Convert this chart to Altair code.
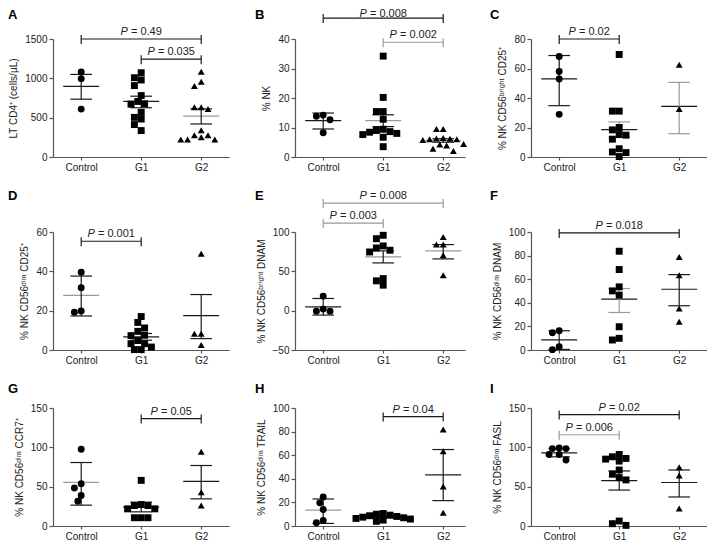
import json
import altair as alt
import pandas as pd

GROUPS = ["Control", "G1", "G2"]
SHAPES = ["circle", "square", "triangle-up"]

# A  LT CD4+
A_CONTROL = [1080, 996, 609]
A_G1 = [1071, 1008, 979, 908, 781, 706, 677, 672, 567, 504, 483, 412, 336]
A_G2 = [1084, 958, 903, 634, 609, 634, 340, 277, 252, 223, 223, 223, 277]
A_MEAN = [899, 706, 520]
A_LO = [735, 626, 420]
A_HI = [1050, 773, 612]
A_PAIRS = [("Control", "G2"), ("G1", "G2")]
A_PLEV = [1500, 1244]
A_PVAL = ["0.49", "0.035"]

# B  % NK
B_CONTROL = [13.8, 12.6, 14.2, 8.2]
B_G1 = [34.2, 20.2, 15.4, 15.4, 12.8, 9.4, 9.0, 8.6, 8.4, 8.0, 7.6, 6.7, 3.5]
B_G2 = [9.5, 9.5, 6.4, 6.2, 6.0, 5.8, 6.0, 6.3, 4.4, 3.9, 4.2, 2.8, 2.0]
B_MEAN = [12.3, 12.3, 5.6]
B_LO = [9.5, 10.3, 5.0]
B_HI = [14.9, 14.3, 6.2]
B_PAIRS = [("Control", "G2"), ("G1", "G2")]
B_PLEV = [47.1, 38.9]
B_PVAL = ["0.008", "0.002"]

# C  CD56bright CD25+
C_CONTROL = [68.1, 58.0, 52.9, 28.9]
C_G1 = [69.5, 31.1, 31.1, 20.0, 18.4, 15.2, 14.8, 12.1, 5.6, 3.4, 3.0, 0.3]
C_G2 = [62.5, 32.5]
C_MEAN = [53.0, 18.6, 34.3]
C_LO = [34.8, 13.5, 15.8]
C_HI = [68.8, 23.8, 50.6]
C_PAIRS = [("Control", "G1")]
C_PLEV = [80]
C_PVAL = ["0.02"]

# D  CD56dim CD25+
D_CONTROL = [39.5, 31.7, 19.2, 19.8]
D_G1 = [17, 14, 11.2, 9.5, 7.5, 7.3, 4.8, 3.2, 3.2, 1.5, 0.2, 0.2]
D_G2 = [49, 8.2, 8.2, 2.5]
D_MEAN = [27.8, 6.7, 17.5]
D_LO = [17.3, 5.0, 5.8]
D_HI = [37.6, 8.4, 28.2]
D_PAIRS = [("Control", "G1")]
D_PLEV = [55.3]
D_PVAL = ["0.001"]

# E  CD56bright DNAM
E_CONTROL = [18.5, 2.0, -0.6, -0.6]
E_G1 = [95.8, 91.5, 82.3, 76.8, 74.6, 79.7, 40.8, 37.9, 32.4]
E_G2 = [93.7, 84, 84, 70.4, 45.1]
E_MEAN = [4.9, 68.3, 75.9]
E_LO = [-5.6, 60.7, 65.8]
E_HI = [15.5, 76.0, 84.0]
E_PAIRS = [("Control", "G2"), ("Control", "G1")]
E_PLEV = [136.8, 111.4]
E_PVAL = ["0.008", "0.003"]

# F  CD56dim DNAM
F_CONTROL = [16.3, 14.6, 2.8, 0.3]
F_G1 = [83.7, 68.2, 53.5, 50.1, 46.5, 19.7, 8.5, 9.9]
F_G2 = [78.9, 63.4, 35.2, 23.9]
F_MEAN = [8.5, 43.1, 51.5]
F_LO = [0.5, 31.8, 37.5]
F_HI = [16.3, 52.1, 63.9]
F_PAIRS = [("Control", "G2")]
F_PLEV = [99.2]
F_PVAL = ["0.018"]

# G  CD56dim CCR7+
G_CONTROL = [97.5, 53.8, 48.3, 38.7, 31.5]
G_G1 = [58, 26, 26, 27.3, 21.8, 21.8, 10.5, 10.5, 10.5]
G_G2 = [94.5, 42.9, 26]
G_MEAN = [55.5, 24.0, 56.7]
G_LO = [26.5, 18.0, 34.5]
G_HI = [80.7, 30.3, 76.9]
G_PAIRS = [("G1", "G2")]
G_PLEV = [136.6]
G_PVAL = ["0.05"]

# H  CD56dim TRAIL
H_CONTROL = [24.6, 19.6, 14.0, 4.7, 2.8]
H_G1 = [10.6, 10.0, 9.2, 8.7, 8.1, 7.5, 7.0, 6.4, 5.9, 5.0, 4.0]
H_G2 = [81.8, 63.4, 33.5, 11.2]
H_MEAN = [13.4, 7.8, 43.3]
H_LO = [2.2, 7.0, 21.5]
H_HI = [22.9, 8.6, 64.8]
H_PAIRS = [("G1", "G2")]
H_PLEV = [92.7]
H_PVAL = ["0.04"]

# I  CD56dim FASL
I_CONTROL = [99.3, 98.4, 98.4, 90.9, 90.9, 83.8]
I_G1 = [88, 85, 82.5, 85.9, 90.9, 71.2, 65.8, 61.5, 58.6, 6.3, 0.8, 2.9]
I_G2 = [74.6, 64.1, 22.2]
I_MEAN = [93.0, 57.8, 55.3]
I_LO = [88.0, 45.7, 36.9]
I_HI = [98.5, 70.0, 71.2]
I_PAIRS = [("Control", "G2"), ("Control", "G1")]
I_PLEV = [141.6, 116]
I_PVAL = ["0.02", "0.006"]

PANELS = [
    dict(letter="A", title="LT CD4⁺ (cells/µL)", dom=[0, 1500], ticks=[0, 500, 1000, 1500],
         pts=[A_CONTROL, A_G1, A_G2], mean=A_MEAN, lo=A_LO, hi=A_HI,
         pairs=A_PAIRS, plev=A_PLEV, pval=A_PVAL),
    dict(letter="B", title="% NK", dom=[0, 40], ticks=[0, 10, 20, 30, 40],
         pts=[B_CONTROL, B_G1, B_G2], mean=B_MEAN, lo=B_LO, hi=B_HI,
         pairs=B_PAIRS, plev=B_PLEV, pval=B_PVAL),
    dict(letter="C", title="% NK CD56ᵇʳⁱᵍʰᵗ CD25⁺", dom=[0, 80], ticks=[0, 20, 40, 60, 80],
         pts=[C_CONTROL, C_G1, C_G2], mean=C_MEAN, lo=C_LO, hi=C_HI,
         pairs=C_PAIRS, plev=C_PLEV, pval=C_PVAL),
    dict(letter="D", title="% NK CD56ᵈⁱᵐ CD25⁺", dom=[0, 60], ticks=[0, 20, 40, 60],
         pts=[D_CONTROL, D_G1, D_G2], mean=D_MEAN, lo=D_LO, hi=D_HI,
         pairs=D_PAIRS, plev=D_PLEV, pval=D_PVAL),
    dict(letter="E", title="% NK CD56ᵇʳⁱᵍʰᵗ DNAM", dom=[-50, 100], ticks=[-50, 0, 50, 100],
         pts=[E_CONTROL, E_G1, E_G2], mean=E_MEAN, lo=E_LO, hi=E_HI,
         pairs=E_PAIRS, plev=E_PLEV, pval=E_PVAL),
    dict(letter="F", title="% NK CD56ᵈⁱᵐ DNAM", dom=[0, 100], ticks=[0, 20, 40, 60, 80, 100],
         pts=[F_CONTROL, F_G1, F_G2], mean=F_MEAN, lo=F_LO, hi=F_HI,
         pairs=F_PAIRS, plev=F_PLEV, pval=F_PVAL),
    dict(letter="G", title="% NK CD56ᵈⁱᵐ CCR7⁺", dom=[0, 150], ticks=[0, 50, 100, 150],
         pts=[G_CONTROL, G_G1, G_G2], mean=G_MEAN, lo=G_LO, hi=G_HI,
         pairs=G_PAIRS, plev=G_PLEV, pval=G_PVAL),
    dict(letter="H", title="% NK CD56ᵈⁱᵐ TRAIL", dom=[0, 100], ticks=[0, 20, 40, 60, 80, 100],
         pts=[H_CONTROL, H_G1, H_G2], mean=H_MEAN, lo=H_LO, hi=H_HI,
         pairs=H_PAIRS, plev=H_PLEV, pval=H_PVAL),
    dict(letter="I", title="% NK CD56ᵈⁱᵐ FASL", dom=[0, 150], ticks=[0, 50, 100, 150],
         pts=[I_CONTROL, I_G1, I_G2], mean=I_MEAN, lo=I_LO, hi=I_HI,
         pairs=I_PAIRS, plev=I_PLEV, pval=I_PVAL),
]

# styling: k = black, g = grey (mean line / error bar / brackets), tdy = label lift
K, G = "#1a1a1a", "#9a9a9a"
STYLE = {
    "A": dict(mc=[K, K, G], bc=[K, K, K], br=[K, K], tdy=[-4, -4]),
    "B": dict(mc=[K, G, G], bc=[K, K, K], br=[K, G], tdy=[-1, -4]),
    "C": dict(mc=[K, K, K], bc=[K, G, G], br=[K], tdy=[-4]),
    "D": dict(mc=[G, K, K], bc=[K, K, K], br=[K], tdy=[-4]),
    "E": dict(mc=[K, G, G], bc=[K, K, K], br=[G, G], tdy=[-4, -4]),
    "F": dict(mc=[K, K, K], bc=[K, G, K], br=[K], tdy=[-4]),
    "G": dict(mc=[G, K, K], bc=[K, K, K], br=[K], tdy=[-4]),
    "H": dict(mc=[G, K, K], bc=[K, K, K], br=[K], tdy=[-4]),
    "I": dict(mc=[K, K, K], bc=[K, K, K], br=[K, G], tdy=[-4, -4]),
}

FONT = "Liberation Sans"
COL_W = [176, 170, 176]
PLOT_H = 118
PX_X = 60.0          # pixels per category step
X0 = -0.47
MEAN_HW, CAP_HW = 0.3, 0.18
LETTER_DX = [-45, -40, -41]
LETTER_DY = [-24, -36, -19]
CHAR_W = {"=": 0.584, " ": 0.278, ".": 0.278}


def swarm(vals, ppu, d=6.8):
    # simple beeswarm: place each point at the closest free horizontal slot
    cands = [0.0]
    for k in range(1, 16):
        cands += [-k * d / 2, k * d / 2]
    placed, out = [], [0.0] * len(vals)
    for i in sorted(range(len(vals)), key=lambda j: -vals[j]):
        y = vals[i] * ppu
        for c in cands:
            if all((c - px) ** 2 + (y - py) ** 2 >= (0.97 * d) ** 2 for px, py in placed):
                break
        placed.append((c, y))
        out[i] = c
    return out


def text_w(s, size=11):
    return sum(CHAR_W.get(ch, 0.556) for ch in s) * size


def panel(p, col, row):
    st = STYLE[p["letter"]]
    w = COL_W[col]
    xs = alt.Scale(domain=[X0, X0 + w / PX_X], nice=False, zero=False)
    ys = alt.Scale(domain=p["dom"], nice=False, zero=False)
    xax = alt.Axis(values=[0, 1, 2], labelExpr=json.dumps(GROUPS) + "[datum.value]",
                   title=None, grid=False)
    yax = alt.Axis(values=p["ticks"], title=p["title"], grid=False, format="d")
    ppu = PLOT_H / (p["dom"][1] - p["dom"][0])

    def X(f):
        return alt.X(f, type="quantitative", scale=xs, axis=xax)

    def Y(f):
        return alt.Y(f, type="quantitative", scale=ys, axis=yax)

    rows = []
    for gi, vals in enumerate(p["pts"]):
        for v, o in zip(vals, swarm(vals, ppu)):
            rows.append({"x": gi + o / PX_X, "v": v, "grp": GROUPS[gi]})
    pts = alt.Chart(pd.DataFrame(rows)).mark_point(
        filled=True, opacity=1, size=48, color="#000"
    ).encode(
        X("x"), Y("v"),
        shape=alt.Shape("grp:N", scale=alt.Scale(domain=GROUPS, range=SHAPES), legend=None),
    )

    stats = pd.DataFrame({
        "x": [0, 1, 2], "mean": p["mean"], "lo": p["lo"], "hi": p["hi"],
        "mc": st["mc"], "bc": st["bc"],
    })
    stats["ml"] = stats["x"] - MEAN_HW
    stats["mr"] = stats["x"] + MEAN_HW
    stats["cl"] = stats["x"] - CAP_HW
    stats["cr"] = stats["x"] + CAP_HW
    base = alt.Chart(stats)
    mean = base.mark_rule(strokeWidth=1.2).encode(
        X("ml"), x2="mr", y=Y("mean"), color=alt.Color("mc:N", scale=None))
    vert = base.mark_rule(strokeWidth=1.2).encode(
        X("x"), Y("lo"), y2="hi", color=alt.Color("bc:N", scale=None))
    cap_hi = base.mark_rule(strokeWidth=1.2).encode(
        X("cl"), x2="cr", y=Y("hi"), color=alt.Color("bc:N", scale=None))
    cap_lo = base.mark_rule(strokeWidth=1.2).encode(
        X("cl"), x2="cr", y=Y("lo"), color=alt.Color("bc:N", scale=None))

    layers = [mean, vert, cap_hi, cap_lo]

    brk, ends = [], []
    for (ga, gb), lev, val, c, tdy in zip(p["pairs"], p["plev"], p["pval"], st["br"], st["tdy"]):
        a, b = GROUPS.index(ga), GROUPS.index(gb)
        brk.append({"a": a, "b": b, "lev": lev, "c": c})
        ends += [{"e": a, "lev": lev, "c": c}, {"e": b, "lev": lev, "c": c}]
        rest = "= " + val
        wp, ws = 7.3, 3.1
        tot = wp + ws + text_w(rest)
        tdf = pd.DataFrame({"mid": [(a + b) / 2], "lev": [lev], "t": [rest]})
        layers.append(alt.Chart(tdf).mark_text(
            text="P", fontStyle="italic", align="left", baseline="alphabetic",
            dx=-tot / 2, dy=tdy, font=FONT, fontSize=11, color="#222",
        ).encode(X("mid"), Y("lev")))
        layers.append(alt.Chart(tdf).mark_text(
            align="left", baseline="alphabetic", dx=-tot / 2 + wp + ws, dy=tdy,
            font=FONT, fontSize=11, color="#222",
        ).encode(X("mid"), Y("lev"), text="t:N"))
    layers.append(alt.Chart(pd.DataFrame(brk)).mark_rule(strokeWidth=1.2).encode(
        X("a"), x2="b", y=Y("lev"), color=alt.Color("c:N", scale=None)))
    layers.append(alt.Chart(pd.DataFrame(ends)).mark_rule(
        strokeWidth=1.2, yOffset=-4, y2Offset=5
    ).encode(X("e"), Y("lev"), y2="lev", color=alt.Color("c:N", scale=None)))

    letter = alt.Chart(alt.Data(values=[{"k": 1}])).mark_text(
        text=p["letter"], font=FONT, fontWeight="bold", fontSize=13,
        align="left", baseline="middle", color="#000",
    ).encode(x=alt.value(LETTER_DX[col]), y=alt.value(LETTER_DY[row]))

    layers += [pts, letter]
    return alt.layer(*layers).properties(width=w, height=PLOT_H)


grid_rows = []
for r in range(3):
    grid_rows.append(alt.hconcat(
        *[panel(PANELS[r * 3 + c], c, r) for c in range(3)],
        spacing=66, bounds="flush",
    ))

chart = alt.vconcat(*grid_rows, spacing=18, padding=0).configure_view(
    stroke=None
).configure_axis(
    grid=False, domainColor="#555", domainWidth=1.2, tickColor="#555", tickWidth=1.2,
    tickSize=4, labelFont=FONT, labelFontSize=10, labelColor="#222", labelPadding=2,
    titleFont=FONT, titleFontSize=10, titleFontWeight="normal", titleColor="#222",
    titlePadding=6,
).configure_axisX(tickSize=3, labelPadding=2)

chart.save("out.html", embed_options={"renderer": "svg", "actions": False})
